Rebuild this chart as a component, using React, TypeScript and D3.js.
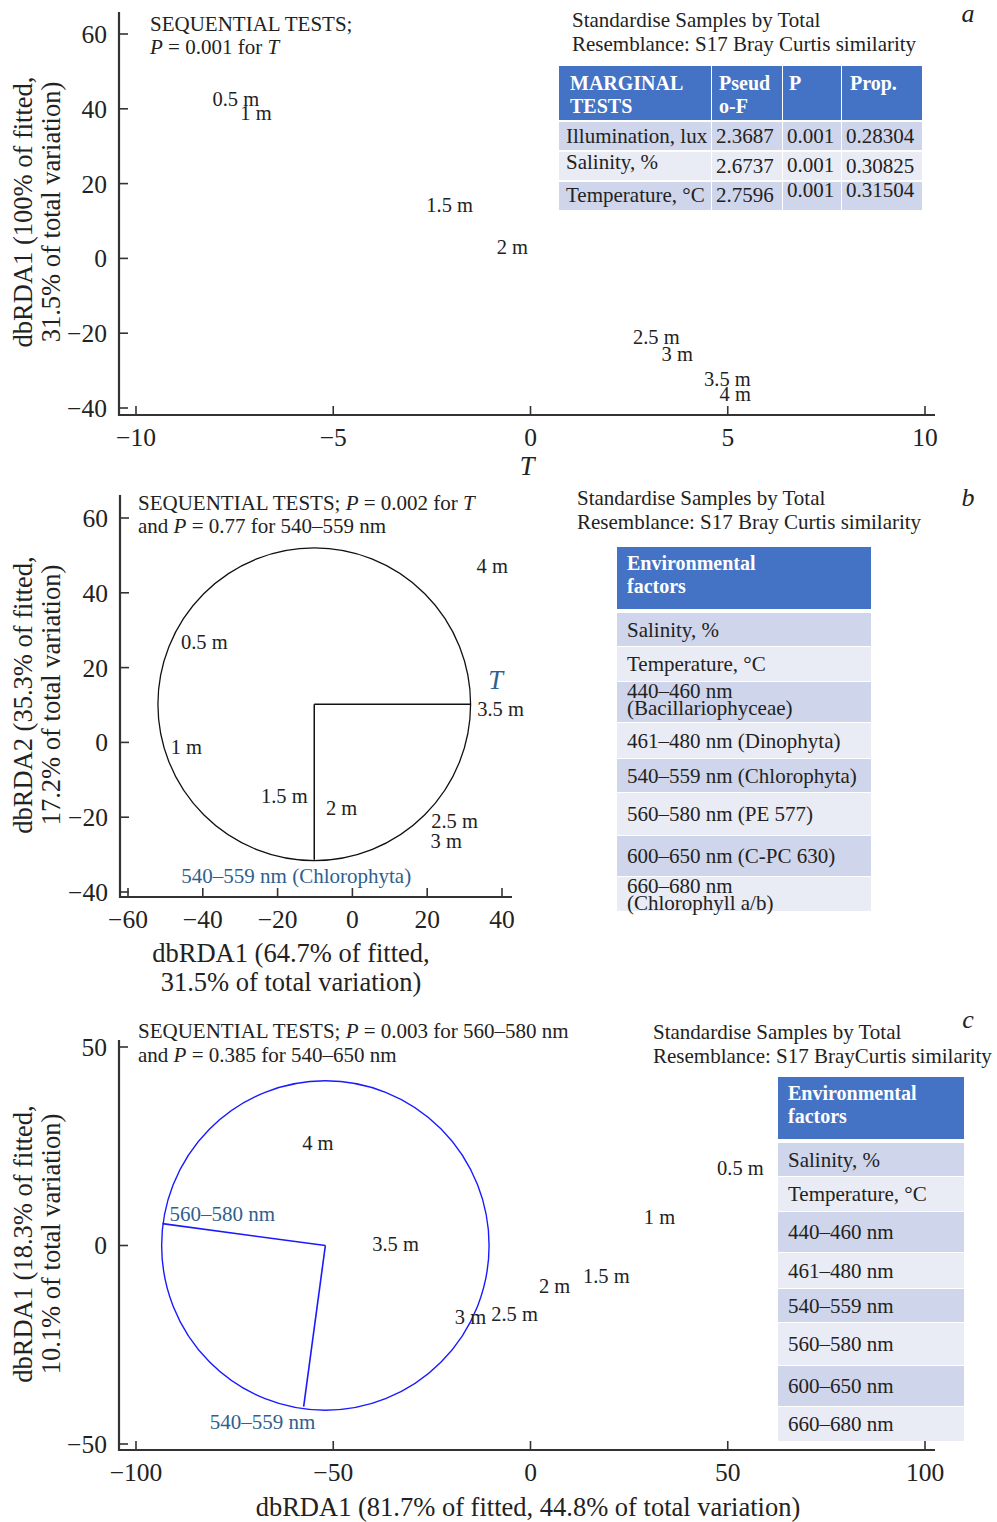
import React from "react";
import * as d3 from "d3";

const SERIF = "'Liberation Serif', 'Times New Roman', serif";
const INK = "#222";
const AXIS = "#333";
const LABEL_BLUE = "#2f5f8f";
const HEAD_BLUE = "#4472c4";
const ROW_DARK = "#cfd5ea";
const ROW_LIGHT = "#e9ebf5";
const TXT = 21;
const TITLE = 26.5;

// ---- panel a ----
const depthsA = ["0.5 m", "1 m", "1.5 m", "2 m", "2.5 m", "3 m", "3.5 m", "4 m"];
const scoreTA = [-7.47, -6.96, -2.05, -0.46, 3.19, 3.72, 4.99, 5.19];
const scoreRda1A = [42.8, 39.0, 14.2, 3.2, -21.1, -25.4, -32.1, -36.1];
const xTicksA = [-10, -5, 0, 5, 10];
const yTicksA = [-40, -20, 0, 20, 40, 60];

const marginalFactors = ["Illumination, lux", "Salinity, %", "Temperature, °C"];
const pseudoF = ["2.3687", "2.6737", "2.7596"];
const pValues = ["0.001", "0.001", "0.001"];
const proportions = ["0.28304", "0.30825", "0.31504"];

// ---- panel b ----
const depthsB = ["0.5 m", "1 m", "1.5 m", "2 m", "2.5 m", "3 m", "3.5 m", "4 m"];
const rda1B = [-39.6, -44.4, -18.2, -2.9, 27.3, 25.1, 39.6, 37.4];
const rda2B = [26.9, -1.3, -14.4, -17.6, -21.1, -26.2, 9.1, 47.3];
const xTicksB = [-60, -40, -20, 0, 20, 40];
const yTicksB = [-40, -20, 0, 20, 40, 60];
const circleCenterB = [-10.2, 10.2];
const circleRadiusB = 41.8;
const vectorNamesB = ["T", "540–559 nm (Chlorophyta)"];
const vectorEndXB = [31.6, -10.2];
const vectorEndYB = [10.2, -31.4];

const envFactorsB = [
  ["Salinity, %"],
  ["Temperature, °C"],
  ["440–460 nm", "(Bacillariophyceae)"],
  ["461–480 nm (Dinophyta)"],
  ["540–559 nm (Chlorophyta)"],
  ["560–580 nm (PE 577)"],
  ["600–650 nm (C-PC 630)"],
  ["660–680 nm", "(Chlorophyll a/b)"],
];

// ---- panel c ----
const depthsC = ["0.5 m", "1 m", "1.5 m", "2 m", "2.5 m", "3 m", "3.5 m", "4 m"];
const rda1C = [53.2, 32.7, 19.2, 6.1, -4.05, -15.2, -34.2, -53.9];
const rda2C = [19.6, 7.1, -7.6, -10.1, -17.1, -17.9, 0.5, 25.9];
const xTicksC = [-100, -50, 0, 50, 100];
const yTicksC = [-50, 0, 50];
const circleCenterC = [-52, 0];
const circleRadiusC = 41.5;
const vectorNamesC = ["560–580 nm", "540–559 nm"];
const vectorEndXC = [-93.3, -57.5];
const vectorEndYC = [5.5, -40.6];

const envFactorsC = [
  ["Salinity, %"],
  ["Temperature, °C"],
  ["440–460 nm"],
  ["461–480 nm"],
  ["540–559 nm"],
  ["560–580 nm"],
  ["600–650 nm"],
  ["660–680 nm"],
];

const fmt = d3.format("d");

type Lin = d3.ScaleLinear<number, number>;

function Axes({ x, y, xTicks, yTicks, x0, y0, xEnd, yTop }: {
  x: Lin; y: Lin; xTicks: number[]; yTicks: number[];
  x0: number; y0: number; xEnd: number; yTop: number;
}) {
  return (
    <g fontFamily={SERIF} fontSize={25.5} fill={INK}>
      <line x1={x0} x2={x0} y1={yTop} y2={y0 + 1} stroke={AXIS} strokeWidth={2.2} />
      <line x1={x0 - 1} x2={xEnd} y1={y0} y2={y0} stroke={AXIS} strokeWidth={2.2} />
      {xTicks.map((t) => (
        <g key={"x" + t}>
          <line x1={x(t)} x2={x(t)} y1={y0} y2={y0 - 9} stroke={AXIS} strokeWidth={1.6} />
          <text x={x(t)} y={y0 + 31} textAnchor="middle">{fmt(t)}</text>
        </g>
      ))}
      {yTicks.map((t) => (
        <g key={"y" + t}>
          <line x1={x0} x2={x0 + 9} y1={y(t)} y2={y(t)} stroke={AXIS} strokeWidth={1.6} />
          <text x={x0 - 12} y={y(t)} dy="0.35em" textAnchor="end">{fmt(t)}</text>
        </g>
      ))}
    </g>
  );
}

function YTitle({ lines, cx, cy }: { lines: string[]; cx: number[]; cy: number }) {
  return (
    <g fontFamily={SERIF} fontSize={TITLE} fill={INK}>
      {lines.map((l, i) => (
        <text key={i} transform={`translate(${cx[i]},${cy}) rotate(-90)`} textAnchor="middle">{l}</text>
      ))}
    </g>
  );
}

function Points({ names, xs, ys, x, y }: { names: string[]; xs: number[]; ys: number[]; x: Lin; y: Lin }) {
  return (
    <g fontFamily={SERIF} fontSize={20.5} fill={INK}>
      {names.map((n, i) => (
        <text key={n} x={x(xs[i])} y={y(ys[i])} dy="0.35em" textAnchor="middle">{n}</text>
      ))}
    </g>
  );
}

function Resemblance({ x, y, text2 }: { x: number; y: number; text2: string }) {
  return (
    <g fontFamily={SERIF} fontSize={TXT} fill={INK}>
      <text x={x} y={y}>Standardise Samples by Total</text>
      <text x={x} y={y + 24}>{text2}</text>
    </g>
  );
}

const envRowHeights = [33, 34, 40, 35, 33, 42, 40, 34];

function EnvTable({ left, width, top, rows }: { left: number; width: number; top: number; rows: string[][] }) {
  const headH = 62;
  let yy = top + headH + 4;
  const tops = envRowHeights.map((h) => {
    const t = yy;
    yy += h + 1;
    return t;
  });
  return (
    <g fontFamily={SERIF}>
      <rect x={left} y={top} width={width} height={headH} fill={HEAD_BLUE} />
      <text x={left + 10} y={top + 23} fill="#fff" fontWeight="bold" fontSize={20}>Environmental</text>
      <text x={left + 10} y={top + 46} fill="#fff" fontWeight="bold" fontSize={20}>factors</text>
      {rows.map((r, i) => {
        const h = envRowHeights[i];
        const t = tops[i];
        return (
          <g key={i}>
            <rect x={left} y={t} width={width} height={h} fill={i % 2 === 0 ? ROW_DARK : ROW_LIGHT} />
            {r.length === 1 ? (
              <text x={left + 10} y={t + h / 2 + 7} fontSize={TXT} fill={INK}>{r[0]}</text>
            ) : (
              r.map((l, j) => (
                <text key={j} x={left + 10} y={t + 16 + j * 17} fontSize={TXT} fill={INK}>{l}</text>
              ))
            )}
          </g>
        );
      })}
    </g>
  );
}

function MarginalTable() {
  const cols = [559, 711, 782, 841, 922];
  const headTop = 66, headBot = 120;
  const rowTops = [122, 152, 182];
  const rowH = 28;
  const colVals = [marginalFactors, pseudoF, pValues, proportions];
  // baseline offsets inside each row, per column
  const textOffsets = [[21, 21, 21, 21], [17, 21, 20, 21], [20, 20, 15, 15]];
  return (
    <g fontFamily={SERIF} fontSize={TXT}>
      {cols.slice(0, 4).map((c, i) => (
        <rect key={"h" + i} x={c + (i ? 1 : 0)} y={headTop} width={cols[i + 1] - c - (i ? 1 : 0)} height={headBot - headTop} fill={HEAD_BLUE} />
      ))}
      {rowTops.map((t, r) =>
        cols.slice(0, 4).map((c, i) => (
          <rect key={r + "-" + i} x={c + (i ? 1 : 0)} y={t} width={cols[i + 1] - c - (i ? 1 : 0)} height={rowH} fill={r % 2 === 0 ? ROW_DARK : ROW_LIGHT} />
        ))
      )}
      <g fill="#fff" fontWeight="bold" fontSize={20}>
        <text x={570} y={90}>MARGINAL</text>
        <text x={570} y={113}>TESTS</text>
        <text x={719} y={90}>Pseud</text>
        <text x={719} y={113}>o-F</text>
        <text x={789} y={90}>P</text>
        <text x={850} y={90}>Prop.</text>
      </g>
      <g fill={INK}>
        {colVals.map((vals, i) =>
          vals.map((v, r) => (
            <text key={i + "-" + r} x={i === 0 ? 566 : cols[i] + 5} y={rowTops[r] + textOffsets[r][i]}>{v}</text>
          ))
        )}
      </g>
    </g>
  );
}

export default function App() {
  // panel a scales
  const xA = d3.scaleLinear().domain([-10, 10]).range([136, 925]);
  const yA = d3.scaleLinear().domain([-40, 60]).range([408, 34]);
  // panel b scales
  const xB = d3.scaleLinear().domain([-60, 40]).range([128, 502]);
  const yB = d3.scaleLinear().domain([-40, 60]).range([892, 518]);
  // panel c scales
  const xC = d3.scaleLinear().domain([-100, 100]).range([136, 925]);
  const yC = d3.scaleLinear().domain([-50, 50]).range([1444, 1047]);

  const cbx = xB(circleCenterB[0]), cby = yB(circleCenterB[1]);
  const ccx = xC(circleCenterC[0]), ccy = yC(circleCenterC[1]);

  return (
    <svg width={997} height={1522} style={{ position: "absolute", left: 0, top: 0, background: "#fff" }}>
      <rect width={997} height={1522} fill="#fff" />

      {/* ---------- a ---------- */}
      <Axes x={xA} y={yA} xTicks={xTicksA} yTicks={yTicksA} x0={119} y0={415} xEnd={935} yTop={12} />
      <YTitle lines={["dbRDA1 (100% of fitted,", "31.5% of total variation)"]} cx={[32, 60]} cy={212} />
      <text x={527} y={475} fontFamily={SERIF} fontSize={TITLE} fontStyle="italic" textAnchor="middle" fill={INK}>T</text>
      <g fontFamily={SERIF} fontSize={TXT} fill={INK}>
        <text x={150} y={31}>SEQUENTIAL TESTS;</text>
        <text x={150} y={54}><tspan fontStyle="italic">P</tspan> = 0.001 for <tspan fontStyle="italic">T</tspan></text>
      </g>
      <Points names={depthsA} xs={scoreTA} ys={scoreRda1A} x={xA} y={yA} />
      <Resemblance x={572} y={27} text2="Resemblance: S17 Bray Curtis similarity" />
      <MarginalTable />
      <text x={968} y={22} fontFamily={SERIF} fontSize={26} fontStyle="italic" textAnchor="middle" fill={INK}>a</text>

      {/* ---------- b ---------- */}
      <Axes x={xB} y={yB} xTicks={xTicksB} yTicks={yTicksB} x0={120} y0={897} xEnd={512} yTop={495} />
      <YTitle lines={["dbRDA2 (35.3% of fitted,", "17.2% of total variation)"]} cx={[32, 60]} cy={695} />
      <g fontFamily={SERIF} fontSize={TITLE} fill={INK} textAnchor="middle">
        <text x={291} y={962}>dbRDA1 (64.7% of fitted,</text>
        <text x={291} y={991}>31.5% of total variation)</text>
      </g>
      <g fontFamily={SERIF} fontSize={TXT} fill={INK}>
        <text x={138} y={510}>SEQUENTIAL TESTS; <tspan fontStyle="italic">P</tspan> = 0.002 for <tspan fontStyle="italic">T</tspan></text>
        <text x={138} y={533}>and <tspan fontStyle="italic">P</tspan> = 0.77 for 540–559 nm</text>
      </g>
      <circle cx={cbx} cy={cby} r={xB(circleRadiusB) - xB(0)} fill="none" stroke="#111" strokeWidth={1.3} />
      {vectorNamesB.map((n, i) => (
        <line key={n} x1={cbx} y1={cby} x2={xB(vectorEndXB[i])} y2={yB(vectorEndYB[i])} stroke="#111" strokeWidth={1.5} />
      ))}
      <text x={xB(vectorEndXB[0]) + 25} y={yB(vectorEndYB[0]) - 25} dy="0.35em" fontFamily={SERIF} fontSize={TITLE} fontStyle="italic" fill={LABEL_BLUE} textAnchor="middle">{vectorNamesB[0]}</text>
      <text x={xB(vectorEndXB[1]) - 18} y={yB(vectorEndYB[1]) + 16} dy="0.35em" fontFamily={SERIF} fontSize={TXT} fill={LABEL_BLUE} textAnchor="middle">{vectorNamesB[1]}</text>
      <Points names={depthsB} xs={rda1B} ys={rda2B} x={xB} y={yB} />
      <Resemblance x={577} y={505} text2="Resemblance: S17 Bray Curtis similarity" />
      <EnvTable left={617} width={254} top={547} rows={envFactorsB} />
      <text x={968} y={506} fontFamily={SERIF} fontSize={26} fontStyle="italic" textAnchor="middle" fill={INK}>b</text>

      {/* ---------- c ---------- */}
      <Axes x={xC} y={yC} xTicks={xTicksC} yTicks={yTicksC} x0={119} y0={1450} xEnd={935} yTop={1040} />
      <YTitle lines={["dbRDA1 (18.3% of fitted,", "10.1% of total variation)"]} cx={[32, 60]} cy={1244} />
      <text x={528} y={1516} fontFamily={SERIF} fontSize={TITLE} fill={INK} textAnchor="middle">dbRDA1 (81.7% of fitted, 44.8% of total variation)</text>
      <g fontFamily={SERIF} fontSize={TXT} fill={INK}>
        <text x={138} y={1038}>SEQUENTIAL TESTS; <tspan fontStyle="italic">P</tspan> = 0.003 for 560–580 nm</text>
        <text x={138} y={1062}>and <tspan fontStyle="italic">P</tspan> = 0.385 for 540–650 nm</text>
      </g>
      <ellipse cx={ccx} cy={ccy} rx={xC(circleRadiusC) - xC(0)} ry={yC(0) - yC(circleRadiusC)} fill="none" stroke="#1a1aff" strokeWidth={1.4} />
      {vectorNamesC.map((n, i) => (
        <line key={n} x1={ccx} y1={ccy} x2={xC(vectorEndXC[i])} y2={yC(vectorEndYC[i])} stroke="#1a1aff" strokeWidth={1.6} />
      ))}
      <text x={xC(vectorEndXC[0]) + 7} y={yC(vectorEndYC[0]) - 10} dy="0.35em" fontFamily={SERIF} fontSize={TXT} fill={LABEL_BLUE}>{vectorNamesC[0]}</text>
      <text x={xC(vectorEndXC[1]) - 41} y={yC(vectorEndYC[1]) + 15} dy="0.35em" fontFamily={SERIF} fontSize={TXT} fill={LABEL_BLUE} textAnchor="middle">{vectorNamesC[1]}</text>
      <Points names={depthsC} xs={rda1C} ys={rda2C} x={xC} y={yC} />
      <Resemblance x={653} y={1039} text2="Resemblance: S17 BrayCurtis similarity" />
      <EnvTable left={778} width={186} top={1077} rows={envFactorsC} />
      <text x={968} y={1028} fontFamily={SERIF} fontSize={26} fontStyle="italic" textAnchor="middle" fill={INK}>c</text>
    </svg>
  );
}
